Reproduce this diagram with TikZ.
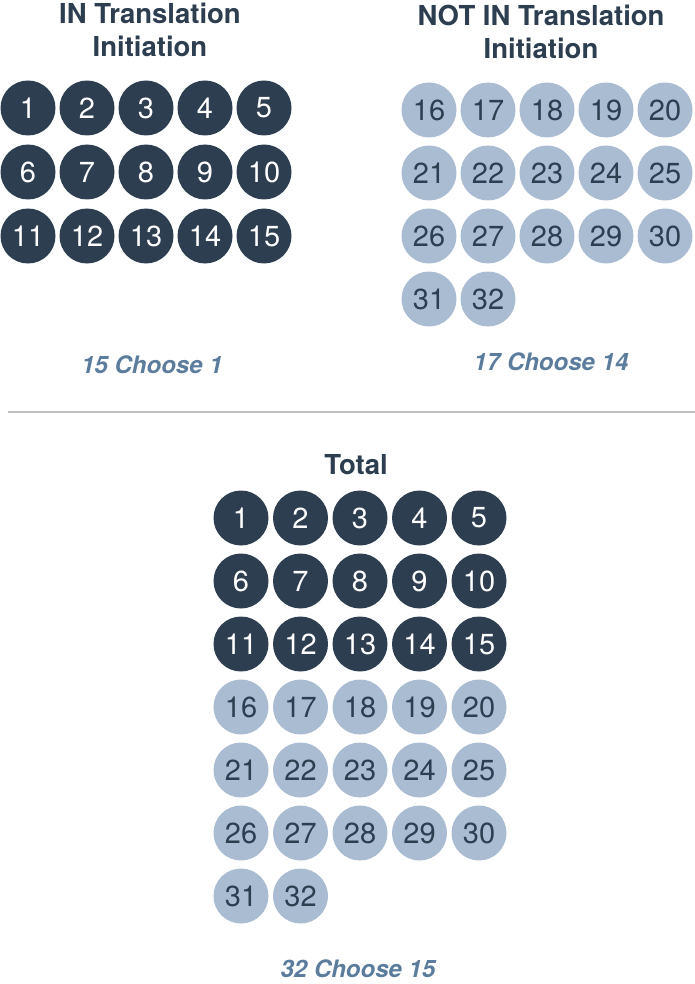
\documentclass[tikz,border=0pt]{standalone}
\usepackage{fontspec}
\setmainfont{TeX Gyre Heros}
\usetikzlibrary{positioning}
\definecolor{navy}{HTML}{2C3E50}
\definecolor{steel}{HTML}{AABCD1}
\definecolor{slateblue}{HTML}{5B7C9D}
\definecolor{rulegray}{HTML}{BEBEBE}

\begin{document}
\begin{tikzpicture}[x=1pt, y=-1pt,
  ball/.style={
    circle, minimum size=55pt, inner sep=0pt,
    font=\fontsize{29}{30}\selectfont
  },
  inball/.style={ball, fill=navy, text=white},
  outball/.style={ball, fill=steel, text=navy},
  heading/.style={align=center, text=navy, font=\fontsize{27.5}{33}\selectfont\bfseries},
  choose/.style={text=slateblue, font=\fontsize{24}{26}\selectfont\bfseries\itshape}
]
\useasboundingbox (0,0) rectangle (695,984);

% top left: genes in translation initiation
\node[heading] (inhead) at (150,30) {IN Translation\\Initiation};
\foreach \n in {1,...,15} {
  \pgfmathtruncatemacro{\col}{mod(\n-1,5)}
  \pgfmathtruncatemacro{\row}{div(\n-1,5)}
  \node[inball] (in\n) at (28+59*\col, 108+64*\row) {\n};
}
\node[choose] (inchoose) at (152,365) {15 Choose 1};

% top right: the others
\node[heading] (outhead) at (541,32) {NOT IN Translation\\Initiation};
\foreach \n in {16,...,32} {
  \pgfmathtruncatemacro{\col}{mod(\n-16,5)}
  \pgfmathtruncatemacro{\row}{div(\n-16,5)}
  \node[outball] (out\n) at (429+59*\col, 110+63*\row) {\n};
}
\node[choose] (outchoose) at (551,362) {17 Choose 14};

\draw[rulegray, line width=2pt] (8,412) -- (695,412);

% bottom: all of them together
\node[heading] (totalhead) at (356,465) {Total};
\foreach \n in {1,...,32} {
  \pgfmathtruncatemacro{\col}{mod(\n-1,5)}
  \pgfmathtruncatemacro{\row}{div(\n-1,5)}
  \ifnum\n<16
    \node[inball] (all\n) at (241+59.5*\col, 518+63*\row) {\n};
  \else
    \node[outball] (all\n) at (241+59.5*\col, 518+63*\row) {\n};
  \fi
}
\node[choose] (allchoose) at (358,969) {32 Choose 15};
\end{tikzpicture}
\end{document}
